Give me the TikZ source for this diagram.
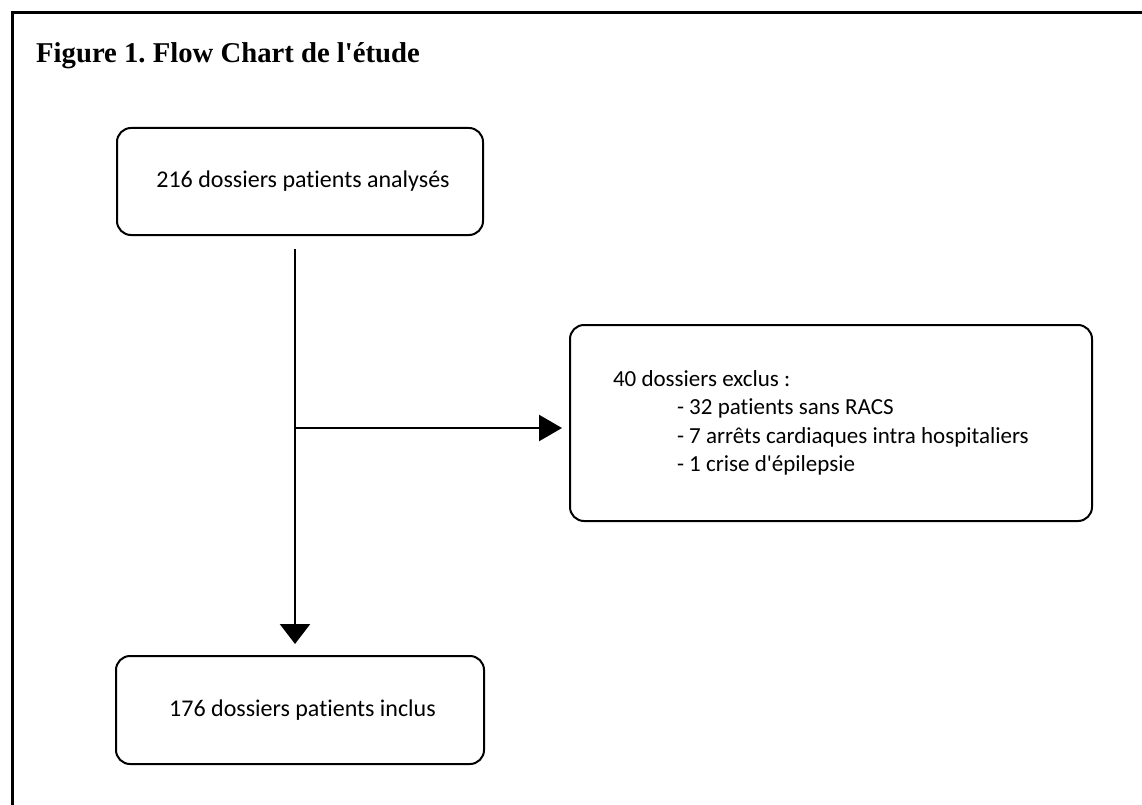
\documentclass[tikz,border=0pt]{standalone}
\usepackage{fontspec}
\setmainfont[Ligatures={NoCommon}]{Carlito}
\newfontfamily\titlefont{Liberation Serif}
\usetikzlibrary{arrows.meta}
\frenchspacing
\tikzset{
  box/.style={draw, line width=2pt, rounded corners=14pt, inner sep=0pt, font=\fontsize{24}{28.5}\selectfont},
  conn/.style={line width=2.5pt},
}
\begin{document}
\begin{tikzpicture}[x=1pt,y=-1pt]
\useasboundingbox (0,0) rectangle (1142,805);
\fill[white] (0,0) rectangle (1142,805);
% frame
\draw[line width=3pt] (12,810) -- (12,13) -- (1150,13);
% title
\node[anchor=base west, inner sep=0pt, font=\titlefont\bfseries\fontsize{28.7}{32}\selectfont] (title) at (36,63) {Figure 1. Flow Chart de l\textquotesingle\'etude};
% boxes
\node[box, minimum width=366pt, minimum height=107pt] (b1) at (300,181.5) {\hspace*{6pt}216 dossiers patients analys\'es};
\node[box, minimum width=368pt, minimum height=108pt] (b3) at (300,710) {\hspace*{5pt}176 dossiers patients inclus};
\node[box, font=\fontsize{23}{28.5}\selectfont, minimum width=522pt, minimum height=196pt, text width=436pt, inner xsep=43pt, align=flush left] (b2) at (831,423)
  {40 dossiers exclus :\\
   \hspace*{64pt}- 32 patients sans RACS\\
   \hspace*{64pt}- 7 arr\^ets cardiaques intra hospitaliers\\
   \hspace*{64pt}- 1 crise d\textquotesingle\'epilepsie};
% connectors
\coordinate (top) at ([xshift=-5pt]b1.south);
\coordinate (bot) at ([xshift=-5pt]b3.north);
\coordinate (j) at (295,428);
\draw[conn, -{Triangle[length=20pt,width=30pt]}, shorten <=13pt, shorten >=11pt] (top) -- (bot);
\draw[conn, -{Triangle[length=23pt,width=26pt]}, shorten >=7pt] (j) -- (j -| b2.west);
\end{tikzpicture}
\end{document}
